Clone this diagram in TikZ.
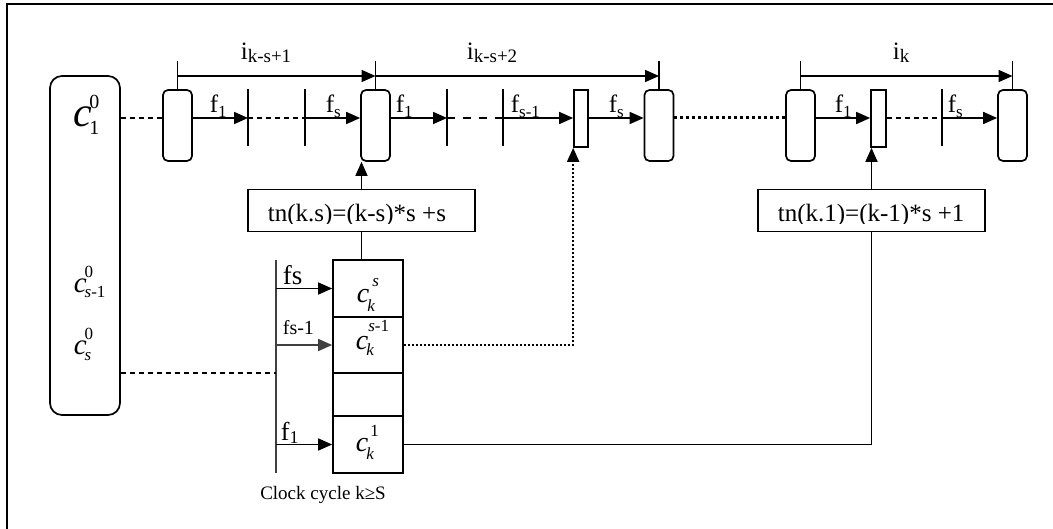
\documentclass[tikz,border=0pt]{standalone}
\usepackage{fontspec}
\setmainfont{Liberation Serif}
\usetikzlibrary{arrows.meta}
\newcommand{\fsz}[1]{\fontsize{#1}{#1}\selectfont}
% c with stacked scripts: #1 c size, #2 script size, #3 sup, #4 sub, #5 sup x, #6 sup raise, #7 sub x, #8 sub lower
\newcommand{\cscr}[8]{{\fsz{#1}\itshape c}{\fsz{#2}\makebox[0pt][l]{\kern#5\raisebox{#6}{#3}}\kern#7\raisebox{-#8}{#4}}}
\newcommand{\lsub}[5]{{\fsz{#1}#3}{\fsz{#2}\raisebox{-#5}{#4}}}
\begin{document}
\begin{tikzpicture}[x=1pt,y=-1pt, line width=1.7pt,
  slot/.style={draw, rounded corners=5pt, minimum width=29pt, minimum height=71pt, inner sep=0pt},
  nslot/.style={draw, minimum width=14pt, minimum height=57pt, inner sep=0pt},
  cell/.style={draw, minimum width=70pt, inner sep=0pt},
  tnbox/.style={draw, minimum width=227pt, minimum height=42pt, inner sep=0pt},
  arr/.style={-{Triangle[length=14pt,width=12pt]}},
  lbl/.style={inner sep=0pt, anchor=base west},
  dashA/.style={line width=1.3pt, dash pattern=on 5pt off 4pt},
  dashB/.style={line width=2pt, dash pattern=on 8pt off 8pt},
  dotA/.style={line width=3pt, dash pattern=on 3pt off 3pt},
  dotB/.style={line width=2pt, dash pattern=on 2pt off 2pt},
  grayln/.style={draw=black!75},
]
\useasboundingbox (0,0) rectangle (1053,529);
\draw[line width=2pt] (1053,4) -- (7,4) -- (7,529);

% left big box
\node[draw, rounded corners=12pt, minimum width=70pt, minimum height=339pt, inner sep=0pt] (lb) at (85,245.5) {};
\node[lbl] (c10) at (73,127) {\cscr{42}{20}{0}{1}{-3pt}{18pt}{-3pt}{8pt}};
\node[lbl] (cs1) at (73,293) {\cscr{29}{17}{0}{\textit{s}-1}{-2pt}{15pt}{-2pt}{5pt}};
\node[lbl] (cs0) at (73,355) {\cscr{29}{17}{0}{\textit{s}}{-2pt}{15pt}{-2pt}{6pt}};

% top row slots
\node[slot] (b1) at (177.5,125.5) {};
\node[slot] (b2) at (375.5,125.5) {};
\node[slot] (b3) at (659,125.5) {};
\node[slot] (b4) at (800.5,125.5) {};
\node[slot] (b5) at (1012.5,125.5) {};
\node[nslot] (n1) at (581,118.5) {};
\node[draw, minimum width=15pt, minimum height=57pt, inner sep=0pt] (n2) at (878.5,118.5) {};

% ticks
\coordinate (t1) at (248,118);
\coordinate (t2) at (305,118);
\coordinate (t3) at (447,118);
\coordinate (t4) at (503,118);
\coordinate (t5) at (942,118);
\foreach \t in {t1,t2,t3,t4,t5} \draw ([yshift=-28pt]\t) -- ([yshift=29pt]\t);

% top row connectors
\draw[dashA] (lb.east |- t1) -- (b1.west |- t1);
\draw[arr] (b1.east |- t1) -- (t1);
\draw[dashA] (t1) -- (t2);
\draw[arr] (t2) -- (b2.west |- t2);
\draw[arr] (b2.east |- t3) -- (t3);
\draw[dashB] (t3) -- (t4);
\draw[arr] (t4) -- (n1.west |- t4);
\draw[arr] (n1.east |- t4) -- (b3.west |- t4);
\draw[dotA] (b3.east |- t4) -- (b4.west |- t4);
\draw[arr] (b4.east |- t5) -- (n2.west |- t5);
\draw[dashA] (n2.east |- t5) -- (t5);
\draw[arr] (t5) -- (b5.west |- t5);

% top labels
\node[lbl] (lf1) at (209,113) {\lsub{25}{17}{f}{1}{5pt}};
\node[lbl] (lfs) at (325,113) {\lsub{25}{17}{f}{s}{5pt}};
\node[lbl] (lf1b) at (395,113) {\lsub{25}{17}{f}{1}{5pt}};
\node[lbl] (lfs1) at (510,113) {\lsub{25}{17}{f}{s-1}{5pt}};
\node[lbl] (lfsb) at (608,113) {\lsub{25}{17}{f}{s}{5pt}};
\node[lbl] (lf1c) at (834,113) {\lsub{25}{17}{f}{1}{5pt}};
\node[lbl] (lfsc) at (947,113) {\lsub{25}{17}{f}{s}{5pt}};

% intervals
\coordinate (i1) at (177.5,76);
\coordinate (i2) at (375.5,76);
\coordinate (i3) at (659,76);
\coordinate (i4) at (800.5,76);
\coordinate (i5) at (1012.5,76);
\draw (b1.north) -- ++(0,-28);
\draw (b2.north) -- ++(0,-28);
\draw (b3.north) -- ++(0,-28);
\draw (b4.north) -- ++(0,-28);
\draw (b5.north) -- ++(0,-28);
\draw[arr] (i1) -- (i2);
\draw[arr] (i2) -- (i3);
\draw[arr] (i4) -- (i5);
\node[lbl] (li1) at (240,60) {\lsub{25}{19}{i}{k-s+1}{3pt}};
\node[lbl] (li2) at (466,60) {\lsub{25}{19}{i}{k-s+2}{3pt}};
\node[lbl] (li3) at (892,60) {\lsub{25}{19}{i}{k}{3pt}};

% tn boxes
\node[tnbox] (tn1) at (361.5,210.5) {};
\node[tnbox] (tn2) at (871.5,210.5) {};
\begin{scope}
  \clip (250,192) rectangle (473,224);
  \node[lbl, font=\fsz{25}] (tx1) at (267,222) {tn(k.s)=(k-s)*s +s};
\end{scope}
\begin{scope}
  \clip (760,192) rectangle (983,224);
  \node[lbl, font=\fsz{25}] (tx2) at (777,222) {tn(k.1)=(k-1)*s +1};
\end{scope}
\draw[arr] (tn1.north) -- (tn1.north |- b2.south);
\draw[arr] (tn2.north) -- (tn2.north |- n2.south);

% stack
\node[cell, minimum height=57pt] (s1) at (368,288.5) {};
\node[cell, minimum height=56pt] (s2) at (368,345) {};
\node[cell, minimum height=43pt] (s3) at (368,394.5) {};
\node[cell, minimum height=57pt] (s4) at (368,444.5) {};
\draw (tn1.south) -- (tn1.south |- s1.north);
\node[lbl] (cks) at (356,303) {\cscr{28}{17}{\textit{s}}{\textit{k}}{3pt}{16pt}{-2pt}{9pt}};
\node[lbl] (cks1) at (355,350) {\cscr{28}{17}{\textit{s}-1}{\textit{k}}{0pt}{18pt}{-2pt}{6pt}};
\node[lbl] (ck1) at (355,452) {\cscr{28}{17}{1}{\textit{k}}{2pt}{15pt}{-2pt}{8pt}};

% clock line
\coordinate (k1) at (276,260);
\coordinate (k2) at (276,473);
\draw[grayln] (k1) -- (k2);
\draw[arr] (k1 |- s1.west) -- (s1.west);
\draw[arr, black!75] (k1 |- s2.west) -- (s2.west);
\draw[arr] (k1 |- s4.west) -- (s4.west);
\coordinate (dl) at (120,373);
\draw[dashA] (lb.east |- dl) -- (k1 |- dl);
\node[lbl] (lfsm) at (282,285) {\fsz{27}fs};
\node[lbl] (lfs1m) at (282,335) {\fsz{20}fs-1};
\node[lbl] (lf1m) at (280,440) {\lsub{26}{18}{f}{1}{3pt}};
\node (clk) at (323,495) {\fsz{19}Clock cycle k≥S};

% outgoing connectors from stack
\draw[dotB, arr] (s2.east) -| (n1.south west);
\draw (s4.east) -| (tn2.south);
\end{tikzpicture}
\end{document}
